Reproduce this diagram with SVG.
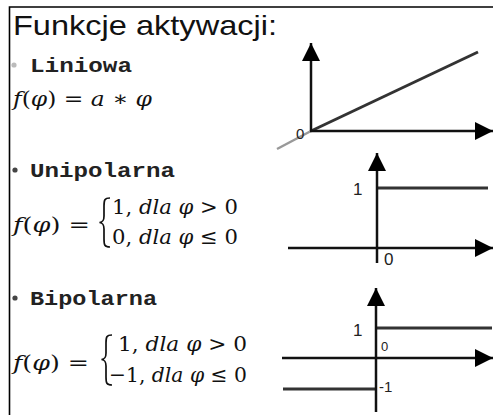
<svg xmlns="http://www.w3.org/2000/svg" width="493" height="415" viewBox="0 0 493 415">
<style>
.title{font-family:"Liberation Sans",Arial,sans-serif;font-size:28px;fill:#111}
.head{font-family:"Liberation Mono","Courier New",monospace;font-weight:bold;font-size:21px;fill:#222}
.math{font-family:"DejaVu Serif","Liberation Serif",serif;font-size:21px;fill:#111}
.it{font-style:italic}
.lbl{font-family:"Liberation Sans",Arial,sans-serif;fill:#222}
.ax{stroke:#111;stroke-width:2.5;fill:none}
.fn{stroke:#333;stroke-width:3;fill:none}
.brace{stroke:#111;stroke-width:1.7;fill:none}
</style>
<defs>
<marker id="arr" markerUnits="userSpaceOnUse" markerWidth="20" markerHeight="20" refX="18" refY="9" orient="auto">
<path d="M0,0 L18,9 L0,18 z" fill="#000"/>
</marker>
</defs>
<rect width="493" height="415" fill="#fff"/>
<g id="frame">
<path d="M9.5,415 V7 H493" stroke="#000" stroke-width="1.6" fill="none"/>
</g>
<g id="title"><text class="title" x="13" y="35" textLength="264" lengthAdjust="spacingAndGlyphs">Funkcje aktywacji:</text></g>

<g id="liniowa">
<circle cx="14" cy="65" r="2.6" fill="#bbb"/>
<text class="head" x="30" y="72" textLength="102" lengthAdjust="spacingAndGlyphs">Liniowa</text>
<text class="math" x="13" y="106" textLength="139" lengthAdjust="spacingAndGlyphs"><tspan class="it">f</tspan>(<tspan class="it">φ</tspan>) = <tspan class="it">a</tspan> ∗ <tspan class="it">φ</tspan></text>
</g>

<g id="unipolarna">
<circle cx="15" cy="170" r="2.6" fill="#444"/>
<text class="head" x="30" y="177" textLength="145" lengthAdjust="spacingAndGlyphs">Unipolarna</text>
<text class="math" x="13" y="232" textLength="77" lengthAdjust="spacingAndGlyphs"><tspan class="it">f</tspan>(<tspan class="it">φ</tspan>) =</text>
<path class="brace" d="M110,198 C104.5,198 104,200 104,206 L104,216 C104,220.5 103,222 99.5,222.5 C103,223 104,224.5 104,229 L104,239 C104,245 104.5,247 110,247"/>
<text class="math" x="112" y="214" textLength="126" lengthAdjust="spacingAndGlyphs">1, <tspan class="it">dla φ</tspan> &gt; 0</text>
<text class="math" x="112" y="244" textLength="126" lengthAdjust="spacingAndGlyphs">0, <tspan class="it">dla φ</tspan>  ≤ 0</text>
</g>

<g id="bipolarna">
<circle cx="15" cy="298" r="2.6" fill="#444"/>
<text class="head" x="30" y="305" textLength="127" lengthAdjust="spacingAndGlyphs">Bipolarna</text>
<text class="math" x="13" y="370" textLength="76" lengthAdjust="spacingAndGlyphs"><tspan class="it">f</tspan>(<tspan class="it">φ</tspan>) =</text>
<path class="brace" d="M112,335 C106.5,335 106,337 106,343 L106,353 C106,357.5 105,359 101.5,359.5 C105,360 106,361.5 106,366 L106,377 C106,383 106.5,385 112,385"/>
<text class="math" x="118" y="351" textLength="129" lengthAdjust="spacingAndGlyphs">1, <tspan class="it">dla φ</tspan> &gt; 0</text>
<text class="math" x="109" y="382" textLength="138" lengthAdjust="spacingAndGlyphs">−1, <tspan class="it">dla φ</tspan>  ≤ 0</text>
</g>

<g id="graph-liniowa">
<line x1="277" y1="149" x2="311" y2="131" stroke="#999" stroke-width="2.5"/>
<line class="fn" x1="311" y1="131" x2="478" y2="52"/>
<text class="lbl" x="296" y="139" font-size="15">0</text>
</g>
<g id="graph-unipolarna">
<line class="fn" x1="377" y1="188" x2="488" y2="188"/>
<text class="lbl" x="353" y="195" font-size="17">1</text>
<text class="lbl" x="384" y="265" font-size="17">0</text>
</g>
<g id="graph-bipolarna">
<line class="fn" x1="376" y1="328" x2="492" y2="328"/>
<line class="fn" x1="283" y1="389" x2="376" y2="389"/>
<text class="lbl" x="353" y="336" font-size="17">1</text>
<text class="lbl" x="381" y="351" font-size="13">0</text>
<text class="lbl" x="379" y="392" font-size="15">-1</text>
</g>

<g id="connectors">
<line class="ax" x1="311" y1="131" x2="311" y2="43" marker-end="url(#arr)"/>
<line class="ax" x1="310" y1="131" x2="493" y2="131" marker-end="url(#arr)"/>
<line class="ax" x1="377" y1="263" x2="377" y2="153" marker-end="url(#arr)"/>
<line class="ax" x1="288" y1="248" x2="493" y2="248" marker-end="url(#arr)"/>
<line class="ax" x1="376" y1="412" x2="376" y2="288" marker-end="url(#arr)"/>
<line class="ax" x1="282" y1="358" x2="493" y2="358" marker-end="url(#arr)"/>
</g>
</svg>
